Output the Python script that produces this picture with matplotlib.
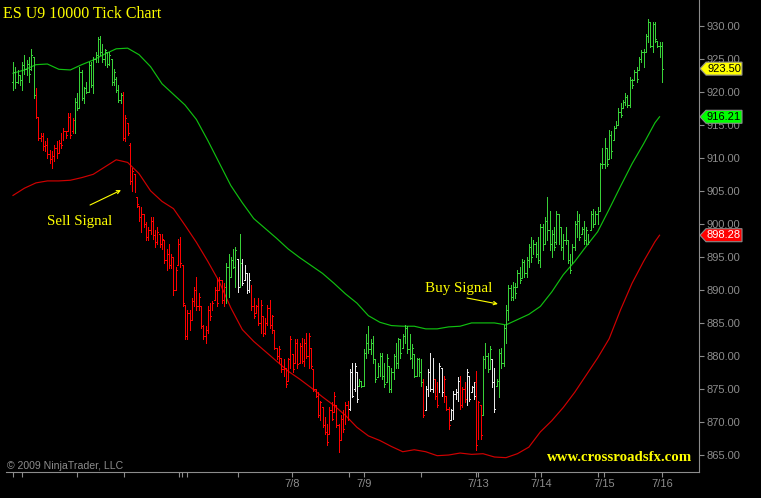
"""
ES U9 10000 tick chart: OHLC bars with two moving averages, NinjaTrader style.
"""

import matplotlib
matplotlib.use("Agg")  # headless backend
import matplotlib.pyplot as plt
import numpy as np
from matplotlib.patches import Polygon
from matplotlib.transforms import IdentityTransform

# ---- data ----
highs = [
    924.5, 923.75, 923.25, 922.5, 924.5, 925.5, 924.75, 925.25, 926.5, 925.25,
    920.5, 916.25, 913.75, 913.75, 912.5, 913.0, 911.25, 911.0, 912.0, 912.5,
    912.75, 913.75, 914.5, 914.0, 916.75, 916.75, 916.0, 919.0, 919.75, 923.75,
    923.25, 920.75, 921.5, 924.5, 924.5, 925.25, 926.0, 928.25, 928.5, 927.25,
    926.5, 926.0, 926.0, 925.0, 923.5, 922.25, 921.0, 919.75, 920.0, 916.5,
    915.25, 912.25, 908.5, 907.5, 904.0, 902.75, 902.5, 901.5, 900.25, 899.5,
    901.0, 901.0, 899.0, 899.5, 898.5, 898.5, 897.5, 896.25, 897.0, 895.5,
    895.0, 893.5, 897.75, 898.0, 893.75, 887.75, 887.0, 887.0, 888.75, 890.5,
    892.0, 889.5, 887.5, 884.75, 884.5, 887.5, 888.0, 888.25, 890.5, 891.75,
    892.0, 891.5, 891.0, 894.0, 895.5, 895.0, 896.25, 896.5, 894.75, 898.5,
    894.75, 893.75, 892.5, 892.5, 890.75, 888.75, 887.75, 888.75, 888.5, 886.0,
    885.75, 887.75, 888.5, 886.25, 884.0, 881.25, 881.5, 879.75, 879.5, 878.25,
    879.75, 883.0, 880.25, 882.5, 882.5, 882.0, 882.75, 882.5, 883.5, 883.5,
    881.25, 878.0, 875.0, 874.5, 873.25, 872.25, 870.75, 869.75, 872.25, 873.0,
    874.5, 872.5, 869.75, 871.0, 871.75, 873.0, 873.25, 878.0, 879.0, 879.0,
    877.5, 876.5, 876.25, 881.0, 883.25, 884.5, 882.5, 883.0, 879.5, 879.0,
    880.5, 880.5, 879.0, 880.25, 878.5, 878.25, 880.25, 882.0, 882.75, 882.5,
    883.25, 884.75, 884.5, 883.25, 881.75, 880.25, 879.75, 879.75, 879.5, 876.5,
    875.5, 878.0, 880.5, 879.75, 876.5, 876.0, 879.0, 878.25, 877.0, 874.0,
    872.25, 872.0, 874.75, 875.0, 876.75, 877.0, 875.25, 876.0, 878.0, 877.0,
    875.5, 876.0, 877.75, 873.25, 872.5, 880.0, 882.0, 880.5, 881.5, 879.5,
    878.25, 876.5, 881.0, 881.25, 884.75, 887.75, 890.75, 890.75, 891.25, 891.0,
    893.0, 893.5, 894.75, 894.5, 895.0, 897.0, 898.0, 897.5, 897.25, 898.0,
    900.0, 900.0, 901.0, 904.0, 902.0, 899.0, 899.5, 902.0, 901.5, 899.5,
    898.5, 899.5, 897.5, 895.5, 897.0, 900.5, 902.0, 901.5, 899.5, 900.5,
    899.5, 898.5, 902.0, 902.25, 902.0, 902.5, 909.25, 911.5, 913.0, 911.5,
    914.25, 914.0, 914.75, 915.5, 917.5, 918.25, 918.75, 919.75, 919.5, 922.25,
    922.0, 923.25, 923.75, 925.25, 926.25, 926.5, 928.75, 931.0, 930.5, 930.5,
    930.5, 927.75, 927.5, 927.5,
]
lows = [
    920.25, 920.5, 921.25, 921.0, 920.25, 922.75, 922.5, 921.5, 923.25, 919.0,
    916.0, 912.75, 912.5, 911.25, 911.0, 910.0, 909.25, 908.5, 909.5, 910.0,
    910.75, 911.5, 912.75, 913.0, 914.0, 913.0, 913.75, 913.75, 917.25, 917.5,
    918.75, 918.25, 919.75, 920.0, 920.75, 919.75, 924.5, 924.5, 925.5, 924.5,
    924.0, 923.75, 924.0, 921.0, 921.0, 920.0, 918.5, 918.25, 912.75, 912.5,
    913.5, 906.0, 905.0, 904.75, 902.5, 900.5, 898.75, 899.5, 897.5, 897.5,
    898.5, 897.75, 896.5, 897.0, 896.5, 896.25, 894.0, 893.0, 893.25, 893.25,
    889.25, 890.0, 893.75, 893.5, 887.5, 882.5, 882.5, 884.0, 885.5, 887.5,
    887.0, 887.0, 884.25, 882.5, 882.0, 883.5, 885.5, 887.0, 888.5, 887.5,
    890.0, 888.0, 887.5, 888.0, 889.0, 892.0, 893.25, 890.5, 889.75, 890.5,
    890.75, 891.5, 889.5, 889.75, 887.0, 885.75, 886.5, 884.75, 883.5, 883.0,
    883.25, 884.75, 884.25, 883.5, 881.0, 879.5, 879.0, 877.5, 877.0, 875.25,
    876.25, 878.25, 877.5, 879.0, 878.25, 879.0, 879.0, 878.5, 879.75, 878.25,
    878.25, 874.75, 873.75, 870.75, 870.25, 869.25, 868.25, 866.5, 868.25, 870.25,
    871.5, 869.25, 865.5, 867.25, 868.5, 869.75, 870.25, 871.75, 873.75, 874.75,
    873.0, 875.5, 875.25, 875.5, 879.75, 880.5, 880.25, 879.0, 876.0, 876.75,
    877.0, 876.5, 875.25, 876.0, 874.5, 874.5, 876.5, 878.25, 878.25, 879.75,
    881.25, 882.0, 880.5, 879.5, 878.25, 876.75, 877.0, 877.0, 875.5, 870.75,
    871.75, 874.0, 874.75, 874.5, 873.5, 872.25, 874.5, 874.0, 873.0, 871.75,
    869.0, 870.25, 870.5, 873.5, 873.25, 872.0, 872.25, 873.0, 872.5, 873.25,
    874.5, 873.5, 865.75, 867.5, 867.5, 871.0, 878.25, 877.5, 878.0, 875.25,
    871.5, 875.5, 873.75, 878.25, 878.5, 882.0, 885.5, 888.5, 888.5, 888.75,
    890.5, 891.0, 891.75, 892.0, 892.0, 893.5, 894.25, 895.5, 895.0, 894.0,
    893.5, 896.0, 897.0, 897.5, 896.0, 895.0, 896.0, 897.0, 897.0, 896.0,
    894.75, 897.0, 894.0, 892.5, 894.0, 896.0, 898.0, 897.5, 898.5, 897.0,
    897.0, 897.0, 899.0, 899.5, 900.0, 900.0, 902.0, 908.5, 908.5, 908.75,
    909.75, 910.0, 912.75, 914.5, 915.0, 916.25, 917.5, 918.0, 917.75, 917.75,
    920.5, 921.75, 921.5, 923.25, 924.5, 923.75, 926.0, 927.5, 926.75, 926.0,
    927.5, 926.75, 925.25, 921.5,
]
opens = [
    921.5, 923.0, 921.5, 922.5, 921.75, 924.0, 923.5, 924.25, 923.5, 925.25,
    919.5, 916.25, 913.0, 913.25, 911.75, 912.0, 910.5, 909.75, 910.25, 911.5,
    910.75, 912.25, 912.75, 914.0, 914.0, 916.25, 914.0, 915.75, 918.5, 917.5,
    923.0, 919.0, 920.5, 920.0, 924.0, 921.0, 925.0, 925.5, 928.0, 926.0,
    925.0, 926.0, 924.25, 925.0, 921.5, 922.0, 920.25, 918.75, 919.5, 913.0,
    915.25, 912.0, 906.5, 907.5, 904.0, 902.75, 901.0, 901.5, 900.0, 898.0,
    899.0, 900.5, 898.25, 897.25, 898.5, 897.0, 897.5, 894.5, 895.5, 893.75,
    895.0, 890.0, 893.75, 897.0, 893.75, 887.75, 883.0, 886.5, 885.5, 888.25,
    890.0, 887.5, 887.5, 884.5, 883.0, 884.0, 887.0, 887.0, 888.5, 890.0,
    890.0, 891.5, 888.5, 890.5, 893.5, 892.0, 894.5, 893.5, 894.75, 890.5,
    894.0, 891.5, 892.5, 890.0, 890.75, 887.5, 886.5, 887.5, 885.0, 886.0,
    883.5, 885.0, 887.25, 884.75, 884.0, 881.25, 880.0, 879.75, 878.0, 878.25,
    876.25, 879.5, 880.25, 879.0, 882.0, 879.0, 881.5, 879.25, 882.0, 880.0,
    881.25, 878.0, 875.0, 874.0, 871.0, 872.25, 869.5, 868.5, 868.25, 871.75,
    871.5, 872.5, 869.5, 867.25, 870.5, 869.75, 872.5, 872.0, 877.5, 875.0,
    877.5, 875.5, 876.0, 875.5, 880.5, 882.0, 881.0, 882.0, 879.5, 876.75,
    878.5, 880.0, 877.0, 876.0, 878.5, 875.0, 877.5, 880.0, 879.0, 882.5,
    881.25, 883.0, 884.25, 881.0, 879.75, 880.25, 877.0, 879.5, 877.5, 876.0,
    871.75, 875.0, 877.5, 875.0, 876.5, 874.0, 874.5, 878.25, 874.5, 874.0,
    872.0, 870.25, 871.75, 874.25, 874.5, 876.25, 872.5, 875.0, 873.5, 877.0,
    874.5, 875.25, 876.0, 867.5, 872.5, 871.0, 879.5, 880.0, 878.0, 879.5,
    876.0, 875.5, 876.25, 880.5, 879.0, 884.25, 887.0, 890.25, 889.0, 890.5,
    890.5, 892.5, 891.75, 894.25, 892.5, 894.5, 896.5, 895.5, 897.0, 895.5,
    894.5, 899.5, 897.0, 900.5, 899.0, 897.0, 898.5, 897.25, 901.5, 899.5,
    896.5, 897.5, 897.5, 894.5, 894.0, 896.5, 900.0, 900.5, 898.5, 899.25,
    897.5, 898.5, 899.0, 901.5, 900.0, 901.5, 902.0, 909.0, 909.0, 911.5,
    909.75, 913.5, 912.75, 914.5, 915.0, 917.0, 917.5, 918.5, 919.25, 918.0,
    921.75, 921.75, 923.0, 923.25, 925.0, 926.0, 926.0, 928.5, 930.5, 927.0,
    930.25, 927.75, 927.0, 927.0,
]
closes = [
    923.0, 921.5, 922.5, 921.75, 924.0, 923.5, 924.25, 922.75, 925.5, 919.5,
    916.25, 913.0, 913.25, 911.75, 912.0, 910.5, 909.75, 910.25, 911.5, 910.5,
    912.25, 912.0, 914.0, 913.5, 916.25, 913.5, 915.75, 918.5, 917.5, 923.0,
    919.0, 920.5, 920.0, 924.0, 921.0, 925.0, 925.5, 928.0, 926.0, 925.0,
    926.25, 924.25, 925.5, 921.5, 923.0, 920.25, 918.75, 919.5, 913.0, 916.0,
    913.75, 906.5, 908.0, 905.0, 903.0, 901.0, 901.5, 900.0, 898.0, 899.0,
    900.5, 898.25, 897.25, 898.75, 897.0, 897.75, 894.5, 895.5, 893.75, 895.0,
    890.0, 893.0, 897.0, 894.0, 888.0, 883.0, 886.5, 884.5, 888.25, 890.0,
    887.5, 889.0, 884.5, 883.0, 884.0, 887.0, 886.0, 888.0, 890.0, 888.0,
    891.5, 888.5, 890.5, 893.5, 890.0, 894.5, 893.5, 896.0, 890.5, 894.0,
    891.0, 893.0, 890.0, 891.5, 887.5, 886.0, 887.5, 885.0, 887.75, 883.5,
    885.0, 887.25, 884.75, 886.0, 881.25, 880.0, 881.0, 878.0, 878.75, 875.75,
    879.5, 882.5, 878.0, 882.0, 878.75, 881.5, 879.25, 882.0, 880.0, 883.0,
    878.5, 875.0, 874.0, 871.0, 873.0, 869.5, 868.5, 867.0, 871.75, 870.5,
    874.0, 869.5, 866.0, 870.5, 869.0, 872.5, 870.5, 877.5, 874.0, 878.5,
    873.5, 876.25, 875.5, 880.5, 882.0, 881.0, 882.0, 879.5, 876.5, 878.5,
    880.0, 877.0, 875.75, 879.75, 875.0, 877.5, 880.0, 879.0, 882.5, 880.5,
    883.0, 884.25, 881.0, 879.75, 881.25, 877.0, 879.5, 877.5, 876.0, 871.0,
    875.0, 877.5, 875.0, 879.0, 874.0, 872.5, 878.5, 874.5, 876.5, 872.0,
    869.5, 871.75, 874.25, 874.5, 876.25, 872.5, 875.0, 873.5, 877.5, 873.5,
    875.25, 874.0, 866.5, 873.0, 868.0, 879.5, 880.0, 878.0, 881.0, 876.0,
    872.0, 876.25, 880.5, 879.0, 884.25, 887.0, 890.25, 889.0, 890.5, 889.5,
    892.5, 891.5, 894.25, 892.5, 894.5, 896.5, 895.0, 897.0, 895.5, 894.5,
    899.5, 897.0, 900.5, 899.0, 897.0, 898.5, 896.5, 901.5, 899.5, 896.5,
    897.5, 899.0, 894.5, 893.0, 896.5, 900.0, 900.5, 898.0, 899.25, 897.5,
    899.0, 897.25, 901.5, 900.0, 901.5, 902.0, 909.0, 909.0, 912.5, 909.0,
    913.5, 911.0, 914.5, 915.0, 917.0, 916.5, 918.5, 919.25, 918.0, 921.75,
    921.0, 923.0, 922.0, 925.0, 926.0, 924.5, 928.5, 930.5, 927.0, 930.25,
    928.0, 927.0, 927.0, 923.5,
]
# bar colour runs: g = up trend, r = down trend, w = neutral
color_runs = [
    ("g", 10), ("r", 17), ("g", 21), ("r", 45), ("g", 5), ("w", 1), ("g", 1),
    ("w", 4), ("r", 43), ("w", 4), ("g", 28), ("r", 1), ("w", 4), ("r", 2),
    ("w", 2), ("r", 3), ("w", 4), ("r", 3), ("w", 4), ("r", 3), ("g", 4),
    ("w", 2), ("g", 73),
]

# moving averages, sampled every 5 bars (last point = final bar shown)
ma_bars = list(range(0, 281, 5)) + [282]
ma_fast = [
    922.8, 923.3, 924.1, 924.2, 923.4, 923.3, 924.1, 924.8, 925.7, 926.5,
    926.6, 925.6, 923.8, 921.2, 919.6, 918.0, 915.8, 912.6, 909.2, 905.8,
    903.2, 900.8, 899.3, 897.8, 896.2, 894.9, 893.7, 892.5, 891.0, 889.4,
    888.0, 886.1, 885.1, 884.6, 884.5, 884.5, 884.1, 884.1, 884.4, 884.5,
    885.0, 885.0, 885.0, 884.7, 885.5, 886.3, 887.5, 889.7, 892.3, 894.3,
    896.6, 898.8, 902.2, 905.7, 909.1, 912.1, 915.3, 916.21,
]
ma_slow = [
    904.3, 905.4, 906.2, 906.5, 906.5, 906.6, 907.0, 907.5, 908.6, 909.7,
    909.3, 907.6, 905.0, 903.4, 902.3, 899.8, 897.2, 894.3, 891.2, 887.3,
    884.0, 882.2, 880.7, 879.2, 877.7, 876.5, 875.2, 873.8, 872.5, 871.0,
    869.2, 867.9, 867.2, 866.3, 865.5, 865.8, 865.5, 864.9, 865.0, 865.3,
    865.1, 865.2, 864.7, 864.6, 865.2, 866.2, 868.5, 870.2, 872.2, 874.5,
    877.1, 879.7, 882.6, 887.0, 891.0, 894.3, 897.3, 898.28,
]

# session boundaries (bar positions) and their date labels
session_ticks = [0, 3.9, 27.9, 48.4, 72.4, 73.7, 75.9, 98.1, 121.7, 146.5,
                 153.1, 177.9, 201.9, 202.8, 227.6, 230.3, 255.1, 257.7, 283.0]
session_labels = ["", "", "", "", "", "", "", "", "7/8", "",
                  "7/9", "", "", "7/13", "", "7/14", "", "7/15", "7/16"]

price_ticks = list(range(865, 931, 5))

# ---- style ----
BAR_COLORS = {"g": "#38d038", "r": "#ff0000", "w": "#e8e8e8"}
GRID_GRAY = "#8c8c8c"
YELLOW = "#ffff00"
SANS = "Liberation Sans"
SERIF = "Liberation Serif"

W, H = 761, 498
fig = plt.figure(figsize=(W / 100, H / 100), dpi=100, facecolor="black")
ax = fig.add_axes([6 / W, 26 / H, 693 / W, 472 / H], facecolor="black")

x = np.arange(len(highs))
cols = [BAR_COLORS[c] for c, n in color_runs for _ in range(n)]

# moving averages under the bars
ax.plot(ma_bars, ma_fast, color="#10c010", lw=0.85, zorder=2)
ax.plot(ma_bars, ma_slow, color="#d00000", lw=0.85, zorder=2)

# crisp 1-px bars like the original screen capture
bar_kw = dict(colors=cols, lw=0.72, zorder=3, antialiased=False)
ax.vlines(x, lows, highs, **bar_kw)
ax.hlines(opens, x - 0.4, x, **bar_kw)
ax.hlines(closes, x, x + 0.4, **bar_kw)

ax.set_xlim(-3.05, 299.2)
ax.set_ylim(862.43, 933.89)

for side in ("left", "top"):
    ax.spines[side].set_visible(False)
for side in ("right", "bottom"):
    ax.spines[side].set_color(GRID_GRAY)
    ax.spines[side].set_linewidth(0.8)

ax.yaxis.tick_right()
ax.set_yticks(price_ticks)
ax.set_yticklabels([f"{p:.2f}" for p in price_ticks], family=SANS)
ax.set_xticks(session_ticks)
ax.set_xticklabels(session_labels, family=SANS)
ax.tick_params(colors=GRID_GRAY, labelcolor=GRID_GRAY, labelsize=8,
               length=3.6, width=0.8, pad=1.5, direction="out")

# annotations
ax.text(14.7, 899.78, "Sell Signal", color=YELLOW, family=SERIF,
        fontsize=10.6, ha="left", va="baseline")
ax.annotate("", xy=(47.1, 905.1), xytext=(33.6, 902.85),
            arrowprops=dict(arrowstyle="->", color=YELLOW, lw=0.8,
                            shrinkA=0, shrinkB=0, mutation_scale=6))
ax.text(179.7, 889.73, "Buy Signal", color=YELLOW, family=SERIF,
        fontsize=10.8, ha="left", va="baseline")
ax.annotate("", xy=(211.5, 887.87), xytext=(198.0, 888.77),
            arrowprops=dict(arrowstyle="->", color=YELLOW, lw=0.8,
                            shrinkA=0, shrinkB=0, mutation_scale=6))

fig.text(3 / W, 1 - 18.3 / H, "ES U9 10000 Tick Chart", color=YELLOW,
         family=SERIF, fontsize=11.5, ha="left", va="baseline")
fig.text(546.7 / W, 1 - 460.7 / H, "www.crossroadsfx.com", color=YELLOW,
         family=SERIF, fontsize=10.7, fontweight="bold", ha="left",
         va="baseline")
fig.text(6.7 / W, 1 - 469.3 / H, "\u00a9 2009 NinjaTrader, LLC",
         color=GRID_GRAY, family=SANS, fontsize=7.6, ha="left", va="baseline")


def price_flag(price, face, text_color, label):
    """Arrow-shaped price marker sitting on the right axis."""
    y = ax.transData.transform((0, price))[1]
    x0 = ax.bbox.x1
    pts = [(x0 + 1, y), (x0 + 7, y + 6.5), (x0 + 43, y + 6.5),
           (x0 + 43, y - 6.5), (x0 + 7, y - 6.5)]
    fig.add_artist(Polygon(pts, closed=True, transform=IdentityTransform(),
                           facecolor=face, edgecolor=GRID_GRAY, lw=0.8))
    fig.text(x0 + 25, y, label, transform=IdentityTransform(), ha="center",
             va="center", color=text_color, family=SANS, fontsize=8)


price_flag(closes[-1], "#ffff00", "black", f"{closes[-1]:.2f}")
price_flag(ma_fast[-1], "#00ff00", "black", f"{ma_fast[-1]:.2f}")
price_flag(ma_slow[-1], "#ff0000", "white", f"{ma_slow[-1]:.2f}")

fig.savefig("out.png", dpi=100, facecolor="black")
plt.close(fig)
